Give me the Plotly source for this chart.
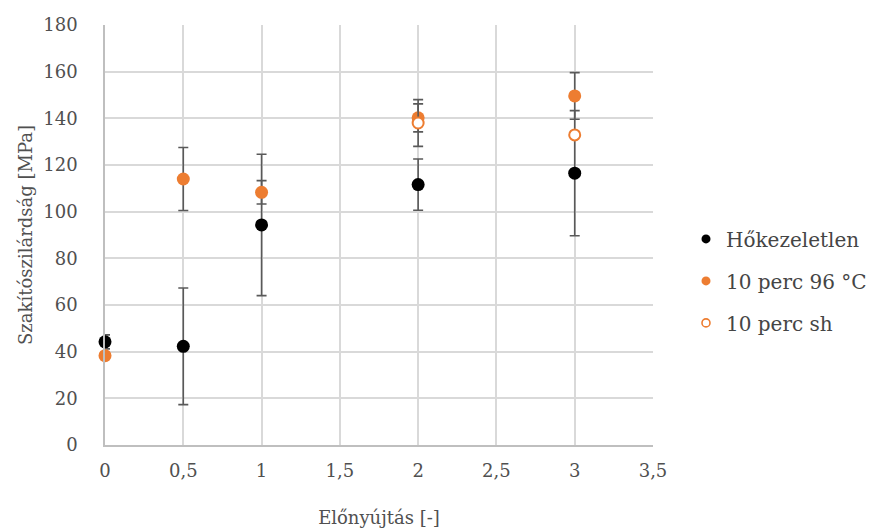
import plotly.graph_objects as go

# Pre-stretch ratio (x) and tensile strength (y) with standard deviations
x_untreated = [0, 0.5, 1, 2, 3]
y_untreated = [44.2, 42.3, 94.3, 111.6, 116.5]
err_untreated = [3.0, 25.0, 30.3, 11.0, 26.8]

x_96c = [0, 0.5, 1, 2, 3]
y_96c = [38.3, 114.0, 108.3, 140.2, 149.6]
err_96c = [0.0, 13.5, 5.0, 6.0, 10.0]

x_sh = [2, 3]
y_sh = [138.0, 132.9]
err_sh = [10.0, 0.0]

names = ["Hőkezeletlen", "10 perc 96 °C", "10 perc sh"]

x_tickvals = [0, 0.5, 1, 1.5, 2, 2.5, 3, 3.5]
x_ticktext = ["0", "0,5", "1", "1,5", "2", "2,5", "3", "3,5"]
y_tickvals = [0, 20, 40, 60, 80, 100, 120, 140, 160, 180]

ORANGE = "#ED7D31"
TEXT = "#505050"
GRID = "#D9D9D9"
ERR = "#595959"
FONT = "DejaVu Serif, Liberation Serif, serif"


def err_bar(vals):
    return dict(type="data", array=vals, visible=True, color=ERR,
                thickness=1.6, width=5)


fig = go.Figure()

series = [
    (x_untreated, y_untreated, err_untreated,
     dict(color="black", size=13)),
    (x_96c, y_96c, err_96c,
     dict(color=ORANGE, size=13)),
    (x_sh, y_sh, err_sh,
     dict(color="white", size=11, line=dict(color=ORANGE, width=2))),
]

for xs, ys, es, mk in series:
    fig.add_trace(go.Scatter(
        x=xs, y=ys, mode="markers", marker=mk,
        error_y=err_bar(es), showlegend=False, cliponaxis=False,
    ))

# Legend entries with smaller symbols
legend_markers = [
    dict(color="black", size=9),
    dict(color=ORANGE, size=9),
    dict(color="white", size=8, line=dict(color=ORANGE, width=1.6)),
]
for i, (name, mk) in enumerate(zip(names, legend_markers)):
    fig.add_trace(go.Scatter(
        x=[None], y=[None], mode="markers", marker=mk, name=name,
        legendgroup=f"g{i}", showlegend=True,
    ))

fig.update_layout(
    width=869, height=529,
    margin=dict(l=105, r=216, t=25, b=84),
    paper_bgcolor="white", plot_bgcolor="white",
    font=dict(family=FONT, size=18, color=TEXT),
    legend=dict(
        x=0.7894, y=0.469, xanchor="left", yanchor="middle",
        xref="container", yref="container",
        tracegroupgap=13, font=dict(size=20, color="#454545"),
        itemwidth=30, bgcolor="rgba(0,0,0,0)",
    ),
    xaxis=dict(
        range=[0, 3.5], tickvals=x_tickvals, ticktext=x_ticktext,
        showgrid=True, gridcolor=GRID, gridwidth=1.5,
        showline=True, linecolor="#BFBFBF", linewidth=1.5,
        zeroline=False, ticks="", ticklabelstandoff=9,
        automargin=False,
        title=dict(text="Előnyújtás [-]", standoff=31,
                   font=dict(size=18, color=TEXT)),
    ),
    yaxis=dict(
        range=[0, 180], tickvals=y_tickvals,
        showgrid=True, gridcolor=GRID, gridwidth=1.5,
        showline=True, linecolor="#BFBFBF", linewidth=1.5,
        zeroline=False, ticks="", ticklabelstandoff=22,
        automargin=False,
        title=dict(text="Szakítószilárdság [MPa]", standoff=6,
                   font=dict(size=18, color=TEXT)),
    ),
)

fig.write_html("out.html")
